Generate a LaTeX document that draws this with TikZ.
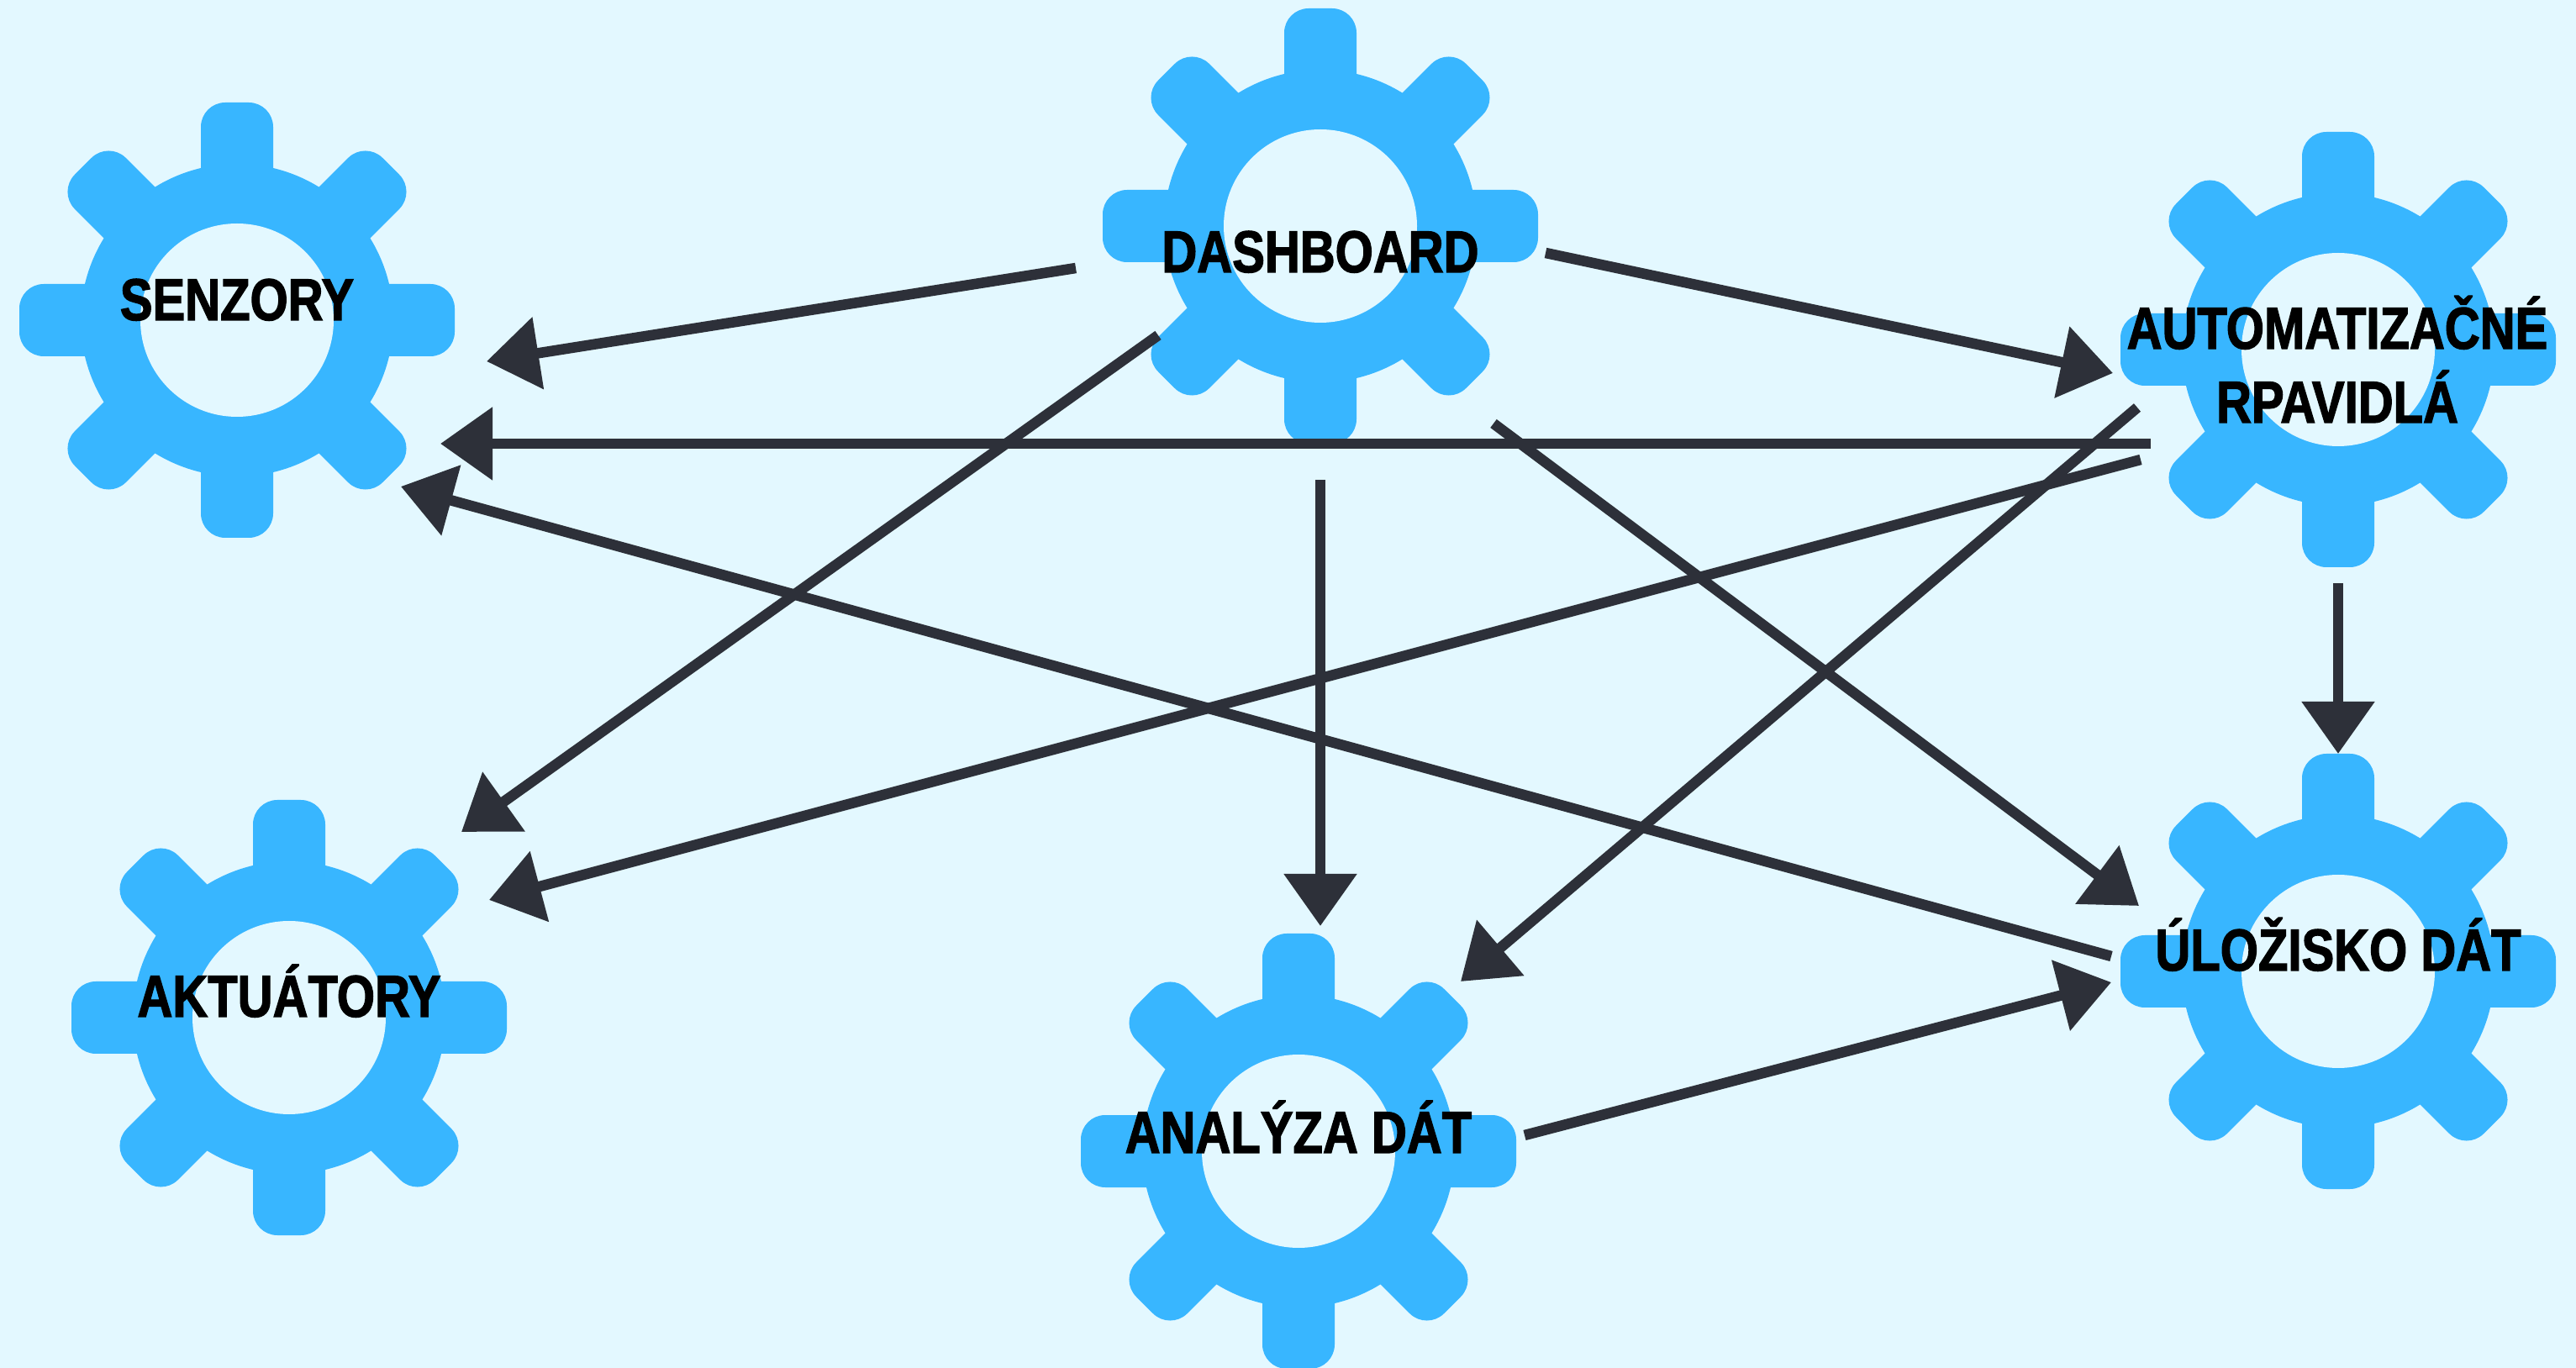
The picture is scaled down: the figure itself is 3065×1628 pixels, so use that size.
\documentclass[tikz,border=0pt]{standalone}
\usepackage{fontspec}
\setmainfont{Liberation Sans Bold}[FakeStretch=0.825,FakeBold=1.8]
\usetikzlibrary{arrows.meta}
\definecolor{sky}{HTML}{E3F8FF}
\definecolor{gearblue}{HTML}{38B6FF}
\definecolor{wire}{HTML}{2D3039}
\tikzset{
    gear/.pic={
        \fill[gearblue] (0,0) circle (186);
        \foreach \a in {0,45,...,315}
            \fill[gearblue,rotate=\a,rounded corners=.29cm] (0,-43) -- (259,-43) -- (259,43) -- (0,43) -- cycle;
        \fill[sky] (0,0) circle (115);
    },
    title/.style={font=\fontsize{20}{25}\selectfont,text=black,align=center,inner sep=0pt,text height=14.2pt,text depth=0pt},
    link/.style={draw=wire,line width=.125cm,-{Triangle[length=.62cm,width=.84cm,sep=0pt]}}
}
\begin{document}
\begin{tikzpicture}[x=.01cm,y=-.01cm]
    \useasboundingbox (0,0) rectangle (3065,1628);
    \fill[sky] (0,0) rectangle (3065,1628);
    \pic at (282,381) {gear};
    \pic at (1571,269) {gear};
    \pic at (2782,416) {gear};
    \pic at (344,1211) {gear};
    \pic at (1545,1370) {gear};
    \pic at (2782,1156) {gear};
    \node[title] (senzory) at (282,356) {SENZORY};
    \node[title] (dashboard) at (1571,299) {DASHBOARD};
    \node[title,text height=39.2pt] (automat) at (2781,434) {AUTOMATIZAČNÉ\\RPAVIDLÁ};
    \node[title] (aktuatory) at (344,1185) {AKTUÁTORY};
    \node[title] (analyza) at (1545,1347) {ANALÝZA DÁT};
    \node[title] (ulozisko) at (2782,1130) {ÚLOŽISKO DÁT};
    \draw[link] ([shift={(-291,20)}]dashboard.center) -- ([shift={(297,74)}]senzory.center);
    \draw[link] ([shift={(268,2)}]dashboard.center) -- ([shift={(-267,10)}]automat.center);
    \draw[link] ([shift={(-222,94)}]automat.center) -- ([shift={(242,172)}]senzory.center);
    \draw[link] ([shift={(-270,8)}]ulozisko.center) -- ([shift={(195,223)}]senzory.center);
    \draw[link] ([shift={(-193,100)}]dashboard.center) -- ([shift={(205,-195)}]aktuatory.center);
    \draw[link] ([shift={(-234,113)}]automat.center) -- ([shift={(238,-114)}]aktuatory.center);
    \draw[link] ([shift={(0,272)}]dashboard.center) -- ([shift={(26,-245)}]analyza.center);
    \draw[link] ([shift={(206,205)}]dashboard.center) -- ([shift={(-237,-52)}]ulozisko.center);
    \draw[link] ([shift={(-238,51)}]automat.center) -- ([shift={(193,-179)}]analyza.center);
    \draw[link] ([shift={(1,260)}]automat.center) -- ([shift={(0,-233)}]ulozisko.center);
    \draw[link] ([shift={(269,4)}]analyza.center) -- ([shift={(-270,39)}]ulozisko.center);
\end{tikzpicture}
\end{document}
